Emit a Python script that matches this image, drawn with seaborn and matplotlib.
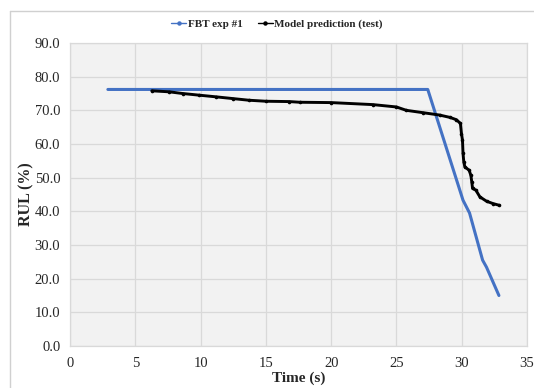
import matplotlib
matplotlib.use("Agg")
import matplotlib.pyplot as plt
import seaborn as sns
import pandas as pd
from matplotlib.lines import Line2D
from matplotlib.ticker import FormatStrFormatter

# FBT experiment #1
fbt_time = [2.9, 27.4, 30.1, 30.6, 31.6, 31.9, 32.85]
fbt_rul = [76.2, 76.2, 43.3, 39.5, 25.5, 23.4, 15.0]

# Model prediction (test)
pred_time = [6.27, 7.6, 8.62, 9.9, 11.2, 12.45, 13.7, 15.0, 16.8, 17.6, 20.0,
             23.2, 25.0, 25.76, 27.04, 28.3, 29.1, 29.6, 29.9, 29.98, 30.06,
             30.1, 30.16, 30.24, 30.57, 30.7, 30.77, 30.83, 31.08, 31.39,
             31.9, 32.4, 32.87]
pred_rul = [75.8, 75.5, 75.0, 74.5, 74.0, 73.5, 73.0, 72.7, 72.6, 72.4, 72.3,
            71.7, 71.0, 70.0, 69.3, 68.6, 67.9, 67.2, 66.1, 63.1, 61.1,
            57.2, 54.7, 53.2, 52.2, 50.7, 48.8, 46.8, 46.3, 44.3,
            43.0, 42.3, 41.8]

x_ticks = [0, 5, 10, 15, 20, 25, 30, 35]
y_ticks = [0, 10, 20, 30, 40, 50, 60, 70, 80, 90]

sns.set_style("white")
plt.rcParams['font.family'] = ['Liberation Serif', 'DejaVu Serif']

fig = plt.figure(figsize=(5.34, 3.88), dpi=100)
ax = fig.add_axes([70/534, 1-346/388, (527-70)/534, (346-43)/388])
ax.set_facecolor('#f2f2f2')

df_fbt = pd.DataFrame({'t': fbt_time, 'r': fbt_rul})
df_pred = pd.DataFrame({'t': pred_time, 'r': pred_rul})

blue = '#4472C4'
sns.lineplot(data=df_fbt, x='t', y='r', ax=ax, color=blue, lw=2.2,
             sort=False, zorder=3)
sns.lineplot(data=df_pred, x='t', y='r', ax=ax, color='black', lw=2.1,
             marker='o', markersize=2.6, markeredgewidth=0, sort=False, zorder=4)

ax.set_xlim(0, 35)
ax.set_ylim(0, 90)
ax.set_xticks(x_ticks)
ax.set_yticks(y_ticks)
ax.yaxis.set_major_formatter(FormatStrFormatter('%.1f'))
ax.grid(True, color='#d9d9d9', lw=0.9)
ax.set_axisbelow(True)
for s in ax.spines.values():
    s.set_color('#d9d9d9')
    s.set_linewidth(0.9)
ax.tick_params(axis='both', length=0, labelsize=10.5)
ax.tick_params(axis='y', pad=7)
ax.tick_params(axis='x', pad=8)
ax.set_xlabel('Time (s)', fontsize=11, fontweight='bold', labelpad=1)
ax.set_ylabel('RUL (%)', fontsize=11.5, fontweight='bold', labelpad=0.5)

handles = [Line2D([0], [0], color=blue, lw=1.0, marker='o', markersize=2.2),
           Line2D([0], [0], color='black', lw=1.0, marker='o', markersize=2.2)]
fig.legend(handles, ['FBT exp #1', 'Model prediction (test)'],
           loc='center', bbox_to_anchor=(277/534, 1-24/388), ncol=2,
           frameon=False, handlelength=1.35, handletextpad=0.15, columnspacing=1.35,
           prop={'family': 'Liberation Serif', 'weight': 'bold', 'size': 8})

# outer chart border
fig.add_artist(Line2D([10/534, 10/534], [0, 1-11/388], color='#d0d0d0', lw=1.0,
                      transform=fig.transFigure))
fig.add_artist(Line2D([10/534, 1], [1-11/388, 1-11/388], color='#d0d0d0', lw=1.0,
                      transform=fig.transFigure))

fig.savefig('out.png', dpi=100)
